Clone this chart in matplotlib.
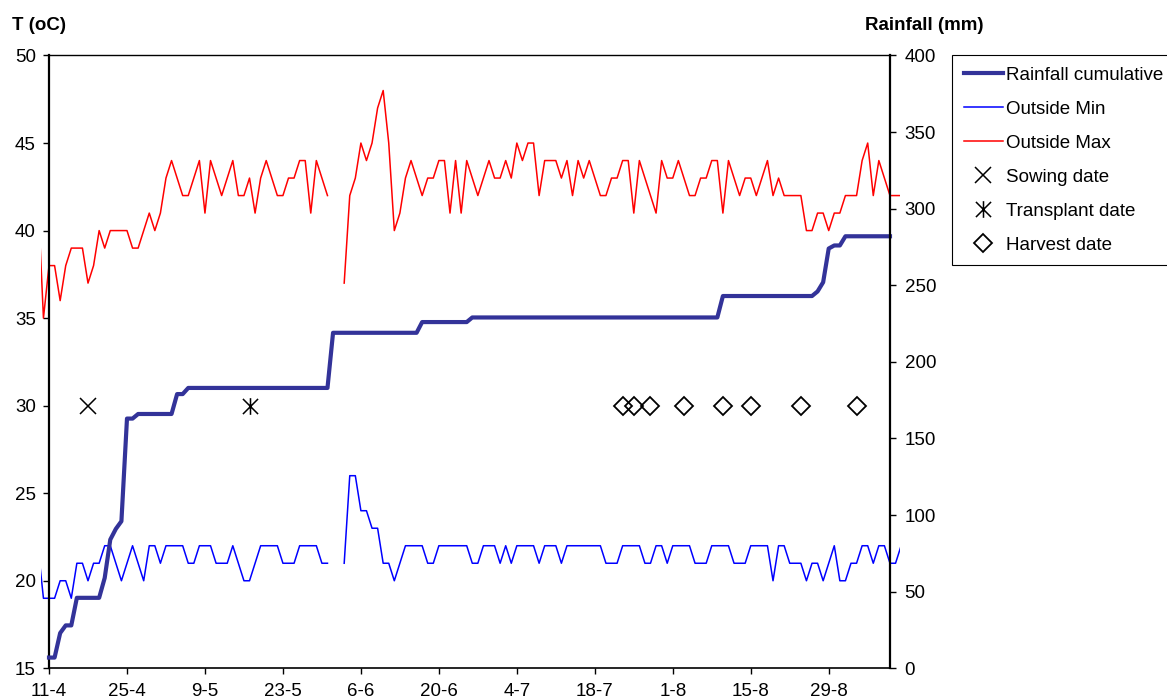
import numpy as np
import matplotlib
matplotlib.use('Agg')
import matplotlib.pyplot as plt
from matplotlib.path import Path

plt.rcParams['font.family'] = ['Liberation Sans', 'DejaVu Sans']
plt.rcParams['font.size'] = 13.5

nan = np.nan

# day numbers count from 11-4 (day 0)
tick_days = [0, 14, 28, 42, 56, 70, 84, 98, 112, 126, 140]
tick_labels = ['11-4', '25-4', '9-5', '23-5', '6-6', '20-6', '4-7', '18-7', '1-8', '15-8', '29-8']

# daily temperatures (oC), first value is day -2
first_temp_day = -2
tmax = [42, 35, 38, 38, 36, 38, 39, 39, 39, 37,
        38, 40, 39, 40, 40, 40, 40, 39, 39, 40,
        41, 40, 41, 43, 44, 43, 42, 42, 43, 44,
        41, 44, 43, 42, 43, 44, 42, 42, 43, 41,
        43, 44, 43, 42, 42, 43, 43, 44, 44, 41,
        44, 43, 42, nan, nan, 37, 42, 43, 45, 44,
        45, 47, 48, 45, 40, 41, 43, 44, 43, 42,
        43, 43, 44, 44, 41, 44, 41, 44, 43, 42,
        43, 44, 43, 43, 44, 43, 45, 44, 45, 45,
        42, 44, 44, 44, 43, 44, 42, 44, 43, 44,
        43, 42, 42, 43, 43, 44, 44, 41, 44, 43,
        42, 41, 44, 43, 43, 44, 43, 42, 42, 43,
        43, 44, 44, 41, 44, 43, 42, 43, 43, 42,
        43, 44, 42, 43, 42, 42, 42, 42, 40, 40,
        41, 41, 40, 41, 41, 42, 42, 42, 44, 45,
        42, 44, 43, 42, 42, 42]

tmin = [22, 19, 19, 19, 20, 20, 19, 21, 21, 20,
        21, 21, 22, 22, 21, 20, 21, 22, 21, 20,
        22, 22, 21, 22, 22, 22, 22, 21, 21, 22,
        22, 22, 21, 21, 21, 22, 21, 20, 20, 21,
        22, 22, 22, 22, 21, 21, 21, 22, 22, 22,
        22, 21, 21, nan, nan, 21, 26, 26, 24, 24,
        23, 23, 21, 21, 20, 21, 22, 22, 22, 22,
        21, 21, 22, 22, 22, 22, 22, 22, 21, 21,
        22, 22, 22, 21, 22, 21, 22, 22, 22, 22,
        21, 22, 22, 22, 21, 22, 22, 22, 22, 22,
        22, 22, 21, 21, 21, 22, 22, 22, 22, 21,
        21, 22, 22, 21, 22, 22, 22, 22, 21, 21,
        21, 22, 22, 22, 22, 21, 21, 21, 22, 22,
        22, 22, 20, 22, 22, 21, 21, 21, 20, 21,
        21, 20, 21, 22, 20, 20, 21, 21, 22, 22,
        21, 22, 22, 21, 21, 22]

# cumulative rainfall (mm), from day 0
rain = [7, 7, 23, 28, 28, 46, 46, 46, 46, 46,
        59, 84, 91, 96, 163, 163, 166, 166, 166, 166,
        166, 166, 166, 179, 179, 183, 183, 183, 183, 183,
        183, 183, 183, 183, 183, 183, 183, 183, 183, 183,
        183, 183, 183, 183, 183, 183, 183, 183, 183, 183,
        183, 219, 219, 219, 219, 219, 219, 219, 219, 219,
        219, 219, 219, 219, 219, 219, 219, 226, 226, 226,
        226, 226, 226, 226, 226, 226, 229, 229, 229, 229,
        229, 229, 229, 229, 229, 229, 229, 229, 229, 229,
        229, 229, 229, 229, 229, 229, 229, 229, 229, 229,
        229, 229, 229, 229, 229, 229, 229, 229, 229, 229,
        229, 229, 229, 229, 229, 229, 229, 229, 229, 229,
        229, 243, 243, 243, 243, 243, 243, 243, 243, 243,
        243, 243, 243, 243, 243, 243, 243, 243, 246, 252,
        274, 276, 276, 282, 282, 282, 282, 282, 282, 282,
        282, 282]

# crop events, drawn at T = 30
event_level = 30
sowing_days = [7]
transplant_days = [36]
harvest_days = [103, 105, 108, 114, 121, 126, 135, 145]

temp_days = np.arange(first_temp_day, first_temp_day + len(tmax))
rain_days = np.arange(len(rain))
last_day = rain_days[-1]

# Excel-like star: a cross with a vertical bar
star = Path([(-1, -1), (1, 1), (-1, 1), (1, -1), (0, -1.1), (0, 1.1)],
            [Path.MOVETO, Path.LINETO, Path.MOVETO, Path.LINETO, Path.MOVETO, Path.LINETO])

fig = plt.figure(figsize=(11.67, 7), dpi=100)
ax = fig.add_axes([0.03513, 0.04529, 0.73608, 0.87543])
ax2 = ax.twinx()

l_min, = ax.plot(temp_days, tmin, color='#0000ff', lw=1.1, label='Outside Min')
l_max, = ax.plot(temp_days, tmax, color='#ff0000', lw=1.1, label='Outside Max')
m_sow, = ax.plot(sowing_days, [event_level] * len(sowing_days), ls='none', marker='x',
                 ms=11, mew=1.1, color='black', label='Sowing date')
m_tr, = ax.plot(transplant_days, [event_level] * len(transplant_days), ls='none', marker=star,
                ms=12, mew=1.1, color='black', label='Transplant date')
m_hv, = ax.plot(harvest_days, [event_level] * len(harvest_days), ls='none', marker='D',
                ms=9, mew=1.3, mfc='none', color='black', label='Harvest date')
l_rain, = ax2.plot(rain_days, rain, color='#333399', lw=3, label='Rainfall cumulative')

ax.set_xlim(-1.44, 152.8)
ax.set_ylim(15, 50)
ax2.set_ylim(0, 400)
ax.set_yticks(np.arange(15, 51, 5))
ax2.set_yticks(np.arange(0, 401, 50))
ax.set_xticks(tick_days)
ax.set_xticklabels(tick_labels)

# axes like the original: spines at day 0 and at the last day
ax.spines['left'].set_position(('data', 0))
ax.spines['left'].set_linewidth(1.6)
ax.spines['right'].set_visible(False)
ax.spines['top'].set_bounds(0, last_day)
ax.spines['bottom'].set_bounds(0, last_day)
ax.spines['top'].set_linewidth(1.0)
ax.spines['bottom'].set_linewidth(1.2)
for s in ['left', 'top', 'bottom']:
    ax2.spines[s].set_visible(False)
ax2.spines['right'].set_position(('data', last_day))
ax2.spines['right'].set_linewidth(1.6)

ax.tick_params(axis='y', direction='out', length=4.5, width=1, pad=5, labelsize=13.5)
ax.tick_params(axis='x', direction='out', length=4.5, width=1, pad=6, labelsize=13.5)
ax2.tick_params(axis='y', direction='out', length=4.5, width=1, pad=6, labelsize=13.5)

fig.text(12 / 1167, 1 - 26 / 700, 'T (oC)', fontweight='bold', fontsize=13.5, va='center', ha='left')
fig.text(865 / 1167, 1 - 26 / 700, 'Rainfall (mm)', fontweight='bold', fontsize=13.5, va='center', ha='left')

handles = [l_rain, l_min, l_max, m_sow, m_tr, m_hv]
leg = fig.legend(handles, [h.get_label() for h in handles], loc='upper left',
                 bbox_to_anchor=(952 / 1167, 1 - 55 / 700), bbox_transform=fig.transFigure,
                 frameon=True, fancybox=False, edgecolor='black', framealpha=1,
                 fontsize=13.5, borderpad=0.62, labelspacing=0.9, handlelength=2.1,
                 handletextpad=0.15, borderaxespad=0)
leg.get_frame().set_linewidth(0.8)

fig.savefig('out.png', dpi=100)
